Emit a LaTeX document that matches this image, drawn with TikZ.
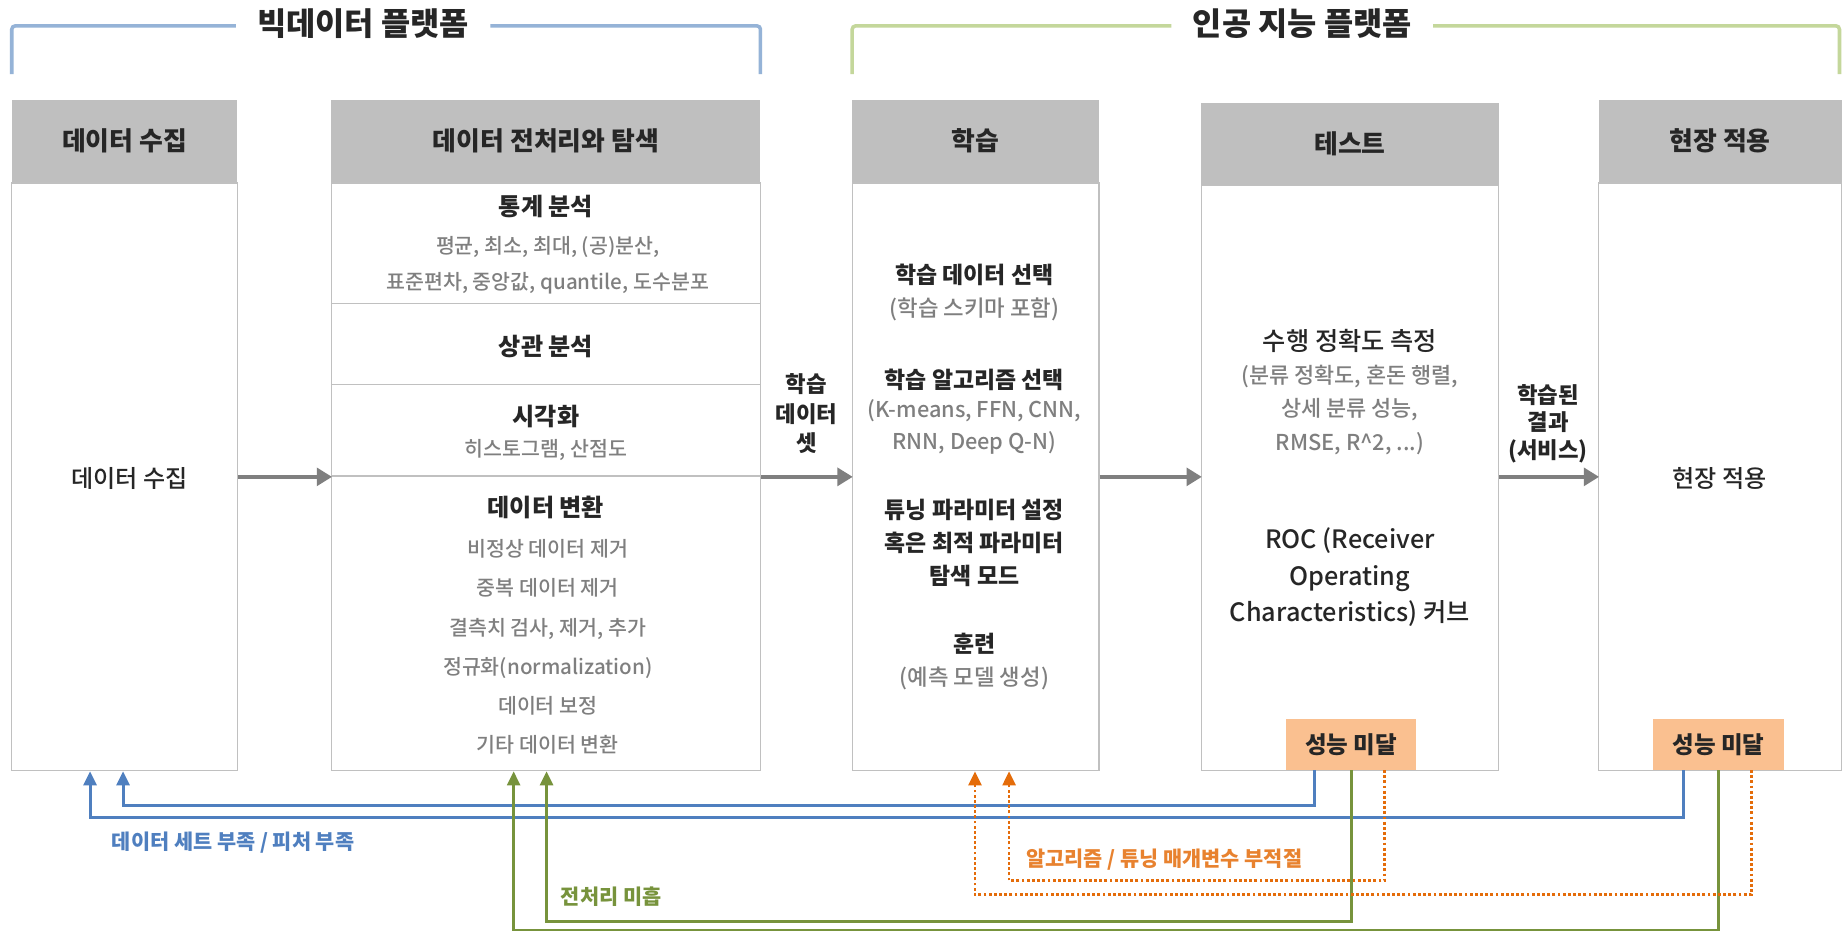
\documentclass[tikz,border=0pt]{standalone}
\usepackage{fontspec}
\setmainfont{Noto Sans CJK KR}
\newfontfamily\medfont{Noto Sans CJK KR Medium}
\usetikzlibrary{arrows.meta}
\definecolor{hdr}{HTML}{BFBFBF}
\definecolor{bdr}{HTML}{C0C0C0}
\definecolor{arr}{HTML}{7F7F7F}
\definecolor{txtd}{HTML}{262626}
\definecolor{txtg}{HTML}{7F7F7F}
\definecolor{fbblue}{HTML}{4F7FBF}
\definecolor{brblue}{HTML}{95B3D7}
\definecolor{brgreen}{HTML}{C4D79B}
\definecolor{fbgreen}{HTML}{77933C}
\definecolor{fborange}{HTML}{E46C0A}
\definecolor{orfill}{HTML}{FAC090}
\tikzset{
  hdrbox/.style={fill=hdr, draw=none, inner sep=0pt, minimum height=70pt, text=txtd, font=\fontsize{22}{26}\selectfont\bfseries},
  bodybox/.style={draw=bdr, line width=1pt, fill=white, inner sep=0pt, anchor=north},
  divline/.style={draw=bdr, line width=1pt},
  bold/.style={text=txtd, font=\fontsize{20.5}{24}\selectfont\bfseries, inner sep=0pt, align=center},
  grey/.style={text=txtg, font=\fontsize{17.5}{31}\selectfont\medfont, inner sep=0pt, align=center},
  plain/.style={text=txtd, font=\fontsize{20.5}{24}\selectfont\medfont, inner sep=0pt, align=center},
  garrow/.style={draw=arr, line width=4pt, -{Triangle[length=13pt,width=15pt]}, shorten >=-1pt},
  perf/.style={fill=orfill, draw=none, minimum width=111pt, minimum height=43pt, inner sep=0pt, text=txtd, font=\fontsize{20}{22}\selectfont\bfseries},
  fbb/.style={draw=fbblue, line width=2.6pt, -{Triangle[length=12pt,width=11pt]}},
  fbg/.style={draw=fbgreen, line width=2.4pt, -{Triangle[length=12pt,width=11pt]}},
  fbo/.style={draw=fborange, line width=2.4pt, dotted, -{Triangle[length=12pt,width=11pt]}},
  brk/.style={line width=3pt, rounded corners=3pt},
  brtitle/.style={text=txtd, font=\fontsize{27}{30}\selectfont\bfseries, inner xsep=18pt, inner ysep=0pt},
  arlab/.style={text=txtd, font=\fontsize{19}{25}\selectfont\bfseries, inner sep=0pt, align=center},
  fblab/.style={font=\fontsize{17.7}{20}\selectfont\bfseries, inner sep=0pt, anchor=west},
}
\begin{document}
\begin{tikzpicture}[x=1pt,y=-1pt]
\useasboundingbox[fill=white] (0,0) rectangle (1568,792);

% brackets
\node[brtitle] (bt1) at (309,20) {빅데이터 플랫폼};
\draw[brk, draw=brblue] (bt1.west |- 0,22) -| (10,63);
\draw[brk, draw=brblue] (bt1.east |- 0,22) -| (647,63);
\node[brtitle] (bt2) at (1108,20) {인공 지능 플랫폼};
\draw[brk, draw=brgreen] (bt2.west |- 0,22) -| (725,63);
\draw[brk, draw=brgreen] (bt2.east |- 0,22) -| (1565,63);

% box 1
\node[hdrbox, minimum width=192pt] (h1) at (106,120) {데이터 수집};
\node[bodybox, minimum width=192pt, minimum height=500pt] (b1) at (h1.south) {};
\node[plain] (t1) at (110,407) {데이터 수집};

% box 2
\node[hdrbox, minimum width=365pt] (h2) at (464.5,120) {데이터 전처리와 탐색};
\node[bodybox, minimum width=365pt, minimum height=500pt] (b2) at (h2.south) {};
\draw[divline] (b2.west |- 0,258) -- (b2.east |- 0,258);
\draw[divline] (b2.west |- 0,327) -- (b2.east |- 0,327);
\draw[divline] (b2.west |- 0,405) -- (b2.east |- 0,405);
\node[bold] (s1) at (464.5,176) {통계 분석};
\node[grey] (s1g) at (466,225.5) {평균, 최소, 최대, (공)분산,\\표준편차, 중앙값, quantile, 도수분포};
\node[bold] (s2) at (464.5,295) {상관 분석};
\node[bold] (s3) at (464.5,354) {시각화};
\node[grey] (s3g) at (464.5,383) {히스토그램, 산점도};
\node[bold] (s4) at (464.5,432) {데이터 변환};
\node[grey, font=\fontsize{17.5}{33.4}\selectfont\medfont] (s4g) at (466,550.5) {비정상 데이터 제거\\중복 데이터 제거\\결측치 검사, 제거, 추가\\정규화(normalization)\\데이터 보정\\기타 데이터 변환};

% box 3
\node[hdrbox, minimum width=210pt] (h3) at (830,120) {학습};
\node[bodybox, minimum width=210pt, minimum height=500pt] (b3) at (h3.south) {};
\node[bold, font=\fontsize{19.5}{24}\selectfont\bfseries] (l1) at (829,234) {학습 데이터 선택};
\node[grey, font=\fontsize{19}{27}\selectfont\medfont] (l1g) at (829,263) {(학습 스키마 포함)};
\node[bold, font=\fontsize{19.5}{24}\selectfont\bfseries] (l2) at (829,323) {학습 알고리즘 선택};
\node[grey, font=\fontsize{18.5}{27}\selectfont\medfont] (l2g) at (829,363.5) {(K-means, FFN, CNN,\\RNN, Deep Q-N)};
\node[bold, font=\fontsize{19.5}{28}\selectfont\bfseries] (l3) at (829,462) {튜닝 파라미터 설정\\혹은 최적 파라미터\\탐색 모드};
\node[bold, font=\fontsize{19.5}{24}\selectfont\bfseries] (l4) at (829,548) {훈련};
\node[grey, font=\fontsize{19}{27}\selectfont\medfont] (l4g) at (829,577) {(예측 모델 생성)};

% box 4
\node[hdrbox, minimum width=253pt, minimum height=69pt] (h4) at (1148.5,122.5) {테스트};
\node[bodybox, minimum width=253pt, minimum height=498pt] (b4) at (h4.south) {};
\node[plain, font=\fontsize{21.5}{24}\selectfont\medfont] (e1) at (1148.5,290) {수행 정확도 측정};
\node[grey, font=\fontsize{18.6}{28.5}\selectfont\medfont] (e1g) at (1148.5,348.5) {(분류 정확도, 혼돈 행렬,\\상세 분류 성능,\\RMSE, R\^{}2, ...)};
\node[plain, font=\fontsize{21.5}{31}\selectfont\medfont] (e2) at (1148.5,491) {ROC (Receiver\\Operating\\Characteristics) 커브};
\node[perf] (p1) at (1149.5,633.5) {성능 미달};

% box 5
\node[hdrbox, minimum width=207pt] (h5) at (1463.5,120) {현장 적용};
\node[bodybox, minimum width=207pt, minimum height=500pt] (b5) at (h5.south) {};
\node[plain] (t5) at (1463,407) {현장 적용};
\node[perf] (p2) at (1462,633.5) {성능 미달};

% main arrows
\draw[garrow] (b1.east) -- (b2.west);
\draw[garrow] (b2.east) -- (b3.west);
\draw[garrow] (b3.east) -- (b4.west |- b3.east);
\draw[garrow] (b4.east |- b5.west) -- (b5.west);
\node[arlab] (a1) at (686,352) {학습\\데이터\\셋};
\node[arlab, font=\fontsize{19}{23.5}\selectfont\bfseries] (a2) at (1317,360.5) {학습된\\결과\\(서비스)};

% feedback: blue
\draw[fbb] ([xshift=-31.5pt]p1.south) |- ([xshift=-1.3pt,yshift=-29pt]b1.south) -- ([xshift=-1.3pt]b1.south);
\draw[fbb] ([xshift=-30pt]p2.south) |- ([xshift=-29.4pt,yshift=-39pt]b1.south) -- ([xshift=-29.4pt]b1.south);
% feedback: green
\draw[fbg] ([xshift=0.5pt]p1.south) |- ([xshift=0.5pt,yshift=-128pt]b2.south) -- ([xshift=0.5pt]b2.south);
\draw[fbg] (p2.south) |- ([xshift=-27.5pt,yshift=-135pt]b2.south) -- ([xshift=-27.5pt]b2.south);
% feedback: orange
\draw[fbo] ([xshift=28.5pt]p1.south) |- ([xshift=28.5pt,yshift=-93pt]b3.south) -- ([xshift=28.5pt]b3.south);
\draw[fbo] ([xshift=28pt]p2.south) |- ([xshift=-0.5pt,yshift=-105pt]b3.south) -- ([xshift=-0.5pt]b3.south);

\node[fblab, text=fbblue] (fl1) at (95,717) {데이터 세트 부족 / 피처 부족};
\node[fblab, text=fborange!85!white] (fl2) at (873,731) {알고리즘 / 튜닝 매개변수 부적절};
\node[fblab, text=fbgreen] (fl3) at (477,763) {전처리 미흡};
\end{tikzpicture}
\end{document}
